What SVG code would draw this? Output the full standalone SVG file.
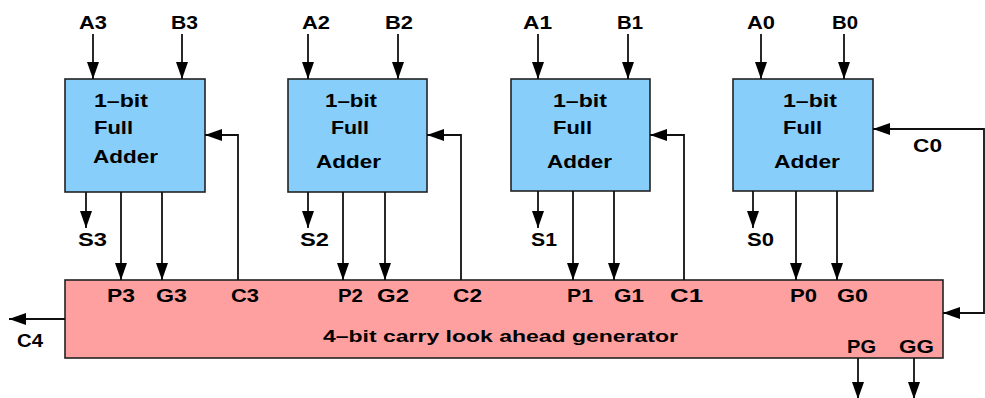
<svg xmlns="http://www.w3.org/2000/svg" width="985" height="398" viewBox="0 0 985 398">
<style>
.fa{fill:#87CEFA;stroke:#222;stroke-width:1.6}
.cla{fill:#FFA0A0;stroke:#222;stroke-width:1.6}
.w{fill:none;stroke:#111;stroke-width:1.8}
.a{marker-end:url(#ah)}
text{font-family:"Liberation Sans",Arial,sans-serif;font-weight:bold;font-size:18px;fill:#000}
text.m{font-size:17px}
</style>
<defs>
<marker id="ah" viewBox="0 0 17 12" refX="17" refY="6" markerWidth="17" markerHeight="12" markerUnits="userSpaceOnUse" orient="auto-start-reverse">
<path d="M0,0 L17,6 L0,12 z" fill="#000"/>
</marker>
</defs>
<rect width="985" height="398" fill="#fff"/>

<g id="adder3">
<rect class="fa" x="65" y="79" width="140" height="113"/>
<text x="94" y="107" textLength="54" lengthAdjust="spacingAndGlyphs">1–bit</text>
<text x="94" y="134" textLength="39" lengthAdjust="spacingAndGlyphs">Full</text>
<text x="93" y="163" textLength="65" lengthAdjust="spacingAndGlyphs">Adder</text>
</g>
<g id="adder2">
<rect class="fa" x="288" y="79" width="139" height="113"/>
<text x="325" y="107" textLength="52" lengthAdjust="spacingAndGlyphs">1–bit</text>
<text x="331" y="134" textLength="38" lengthAdjust="spacingAndGlyphs">Full</text>
<text x="316" y="168" textLength="65" lengthAdjust="spacingAndGlyphs">Adder</text>
</g>
<g id="adder1">
<rect class="fa" x="511" y="79" width="139" height="112"/>
<text x="553" y="107" textLength="54" lengthAdjust="spacingAndGlyphs">1–bit</text>
<text x="553" y="134" textLength="39" lengthAdjust="spacingAndGlyphs">Full</text>
<text x="547" y="168" textLength="65" lengthAdjust="spacingAndGlyphs">Adder</text>
</g>
<g id="adder0">
<rect class="fa" x="733" y="79" width="140" height="112"/>
<text x="783" y="107" textLength="54" lengthAdjust="spacingAndGlyphs">1–bit</text>
<text x="783" y="134" textLength="39" lengthAdjust="spacingAndGlyphs">Full</text>
<text x="774" y="168" textLength="66" lengthAdjust="spacingAndGlyphs">Adder</text>
</g>
<g id="cla">
<rect class="cla" x="65" y="280" width="878" height="78"/>
<text class="m" x="323" y="342" textLength="355" lengthAdjust="spacingAndGlyphs">4–bit carry look ahead generator</text>
<text x="107" y="302" textLength="28" lengthAdjust="spacingAndGlyphs">P3</text>
<text x="156" y="302" textLength="31" lengthAdjust="spacingAndGlyphs">G3</text>
<text x="231" y="302" textLength="28" lengthAdjust="spacingAndGlyphs">C3</text>
<text x="338" y="302" textLength="25" lengthAdjust="spacingAndGlyphs">P2</text>
<text x="377" y="302" textLength="32" lengthAdjust="spacingAndGlyphs">G2</text>
<text x="453" y="302" textLength="29" lengthAdjust="spacingAndGlyphs">C2</text>
<text x="567" y="302" textLength="26" lengthAdjust="spacingAndGlyphs">P1</text>
<text x="614" y="302" textLength="30" lengthAdjust="spacingAndGlyphs">G1</text>
<text x="670" y="302" textLength="33" lengthAdjust="spacingAndGlyphs">C1</text>
<text x="790" y="302" textLength="27" lengthAdjust="spacingAndGlyphs">P0</text>
<text x="837" y="302" textLength="31" lengthAdjust="spacingAndGlyphs">G0</text>
<text x="847" y="353" textLength="29" lengthAdjust="spacingAndGlyphs">PG</text>
<text x="899" y="353" textLength="35" lengthAdjust="spacingAndGlyphs">GG</text>
</g>

<g id="connectors">
<path class="w a" d="M93,34 V79"/>
<path class="w a" d="M182,34 V79"/>
<path class="w a" d="M308,34 V79"/>
<path class="w a" d="M398,34 V79"/>
<path class="w a" d="M538,34 V79"/>
<path class="w a" d="M628,34 V79"/>
<path class="w a" d="M761,34 V79"/>
<path class="w a" d="M844,34 V79"/>
<path class="w a" d="M86,192 V228"/>
<path class="w a" d="M121,192 V280"/>
<path class="w a" d="M162,192 V280"/>
<path class="w a" d="M238,280 V135 H205"/>
<path class="w a" d="M308,192 V228"/>
<path class="w a" d="M343,192 V280"/>
<path class="w a" d="M385,192 V280"/>
<path class="w a" d="M461,280 V135 H427"/>
<path class="w a" d="M538,191 V228"/>
<path class="w a" d="M573,191 V280"/>
<path class="w a" d="M614,191 V280"/>
<path class="w a" d="M684,280 V135 H650"/>
<path class="w a" d="M753,191 V228"/>
<path class="w a" d="M796,191 V280"/>
<path class="w a" d="M837,191 V280"/>
<path class="w a" d="M873,129 H984 V313 H943" marker-start="url(#ah)"/>
<path class="w a" d="M65,319 H9"/>
<path class="w a" d="M858,358 V399"/>
<path class="w a" d="M914,358 V399"/>
</g>

<g id="labels">
<text x="79" y="29" textLength="28" lengthAdjust="spacingAndGlyphs">A3</text>
<text x="171" y="29" textLength="27" lengthAdjust="spacingAndGlyphs">B3</text>
<text x="302" y="29" textLength="28" lengthAdjust="spacingAndGlyphs">A2</text>
<text x="385" y="29" textLength="28" lengthAdjust="spacingAndGlyphs">B2</text>
<text x="523" y="29" textLength="29" lengthAdjust="spacingAndGlyphs">A1</text>
<text x="617" y="29" textLength="26" lengthAdjust="spacingAndGlyphs">B1</text>
<text x="747" y="29" textLength="28" lengthAdjust="spacingAndGlyphs">A0</text>
<text x="832" y="29" textLength="26" lengthAdjust="spacingAndGlyphs">B0</text>
<text x="78" y="246" textLength="29" lengthAdjust="spacingAndGlyphs">S3</text>
<text x="300" y="246" textLength="29" lengthAdjust="spacingAndGlyphs">S2</text>
<text x="531" y="246" textLength="26" lengthAdjust="spacingAndGlyphs">S1</text>
<text x="747" y="246" textLength="27" lengthAdjust="spacingAndGlyphs">S0</text>
<text x="913" y="152" textLength="29" lengthAdjust="spacingAndGlyphs">C0</text>
<text x="17" y="347" textLength="26" lengthAdjust="spacingAndGlyphs">C4</text>
</g>
</svg>
